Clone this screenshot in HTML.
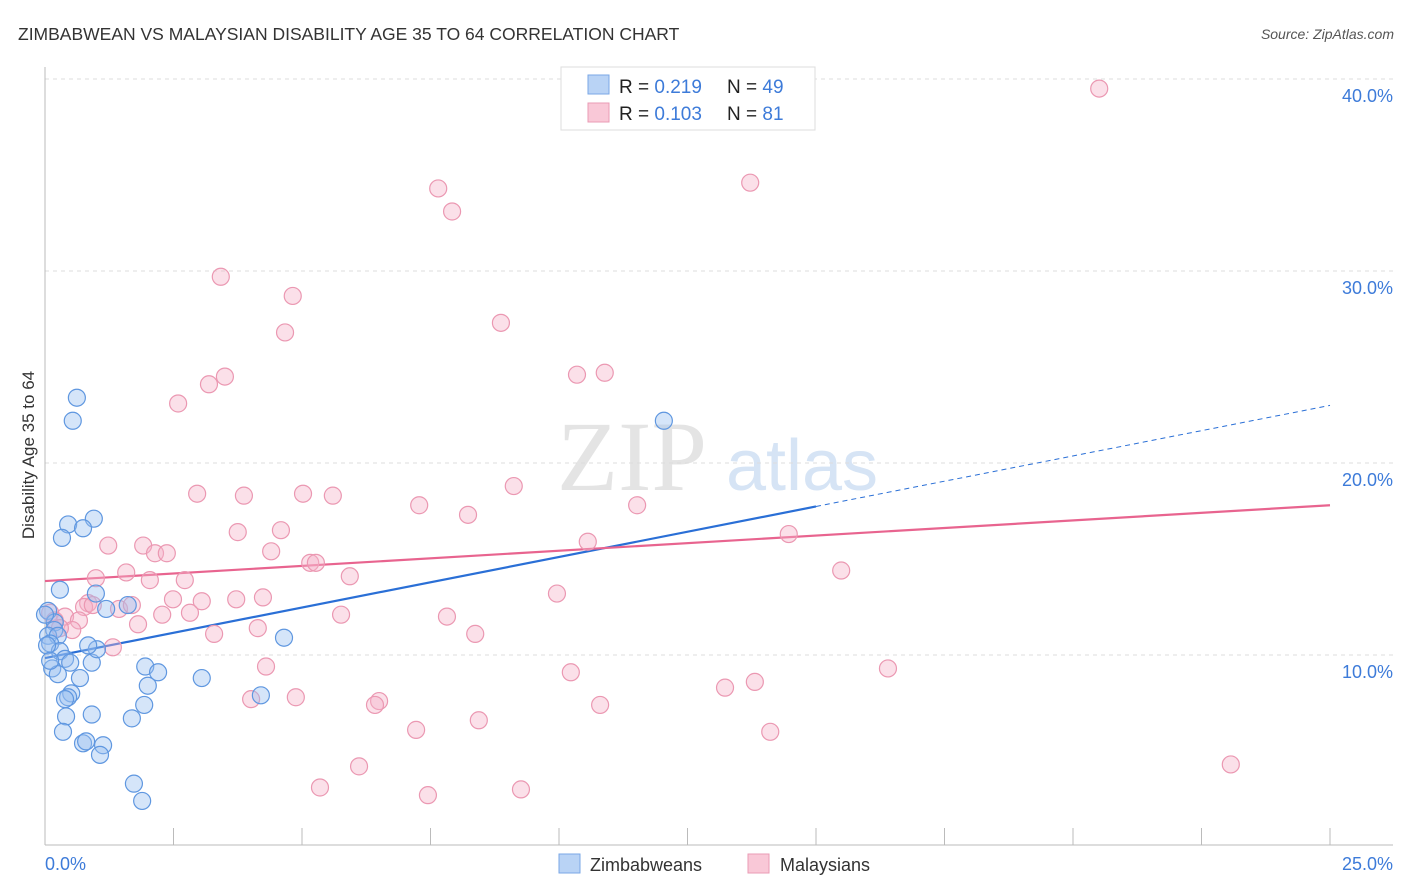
<!DOCTYPE html>
<html><head><meta charset="utf-8"><style>
body{margin:0;background:#fff;font-family:"Liberation Sans",sans-serif;}
svg{display:block}
</style></head><body>
<svg id="chart" width="1406" height="892" viewBox="0 0 1406 892" xmlns="http://www.w3.org/2000/svg">
<text x="18" y="40" font-size="17.5" fill="#333">ZIMBABWEAN VS MALAYSIAN DISABILITY AGE 35 TO 64 CORRELATION CHART</text>
<text x="1394" y="39" font-size="14" fill="#555" font-style="italic" text-anchor="end">Source: ZipAtlas.com</text>
<g>
<text x="632" y="490" font-size="100" font-family="Liberation Serif,serif" fill="#e4e4e4" text-anchor="middle">ZIP</text>
<text x="802" y="490" font-size="72" fill="#d6e4f5" text-anchor="middle">atlas</text>
</g>
<g id="grid"></g>
<g id="axes"></g>
<g id="lines"></g>
<g id="points"></g>
<text transform="translate(34,455) rotate(-90)" font-size="17" fill="#333" text-anchor="middle">Disability Age 35 to 64</text>
<g>
<rect x="561" y="67" width="254" height="63" fill="#fff" stroke="#ddd"/>
<rect x="588" y="75" width="21" height="19" fill="#b9d3f5" stroke="#7aa7e6"/>
<rect x="588" y="103" width="21" height="19" fill="#f9c8d7" stroke="#ea9bb4"/>
<text x="619" y="93" font-size="19" fill="#222">R = <tspan fill="#3d7bd9">0.219</tspan></text>
<text x="727" y="93" font-size="19" fill="#222">N = <tspan fill="#3d7bd9">49</tspan></text>
<text x="619" y="120" font-size="19" fill="#222">R = <tspan fill="#3d7bd9">0.103</tspan></text>
<text x="727" y="120" font-size="19" fill="#222">N = <tspan fill="#3d7bd9"> 81</tspan></text>
</g>
<g>
<rect x="559" y="854" width="21" height="19" fill="#b9d3f5" stroke="#7aa7e6"/>
<text x="590" y="871" font-size="18" fill="#333">Zimbabweans</text>
<rect x="748" y="854" width="21" height="19" fill="#f9c8d7" stroke="#ea9bb4"/>
<text x="780" y="871" font-size="18" fill="#333">Malaysians</text>
</g>
</svg>
<script>
const xTicks=[0,2.5,5,7.5,10,12.5,15,17.5,20,22.5,25];
const yTicks=[10,20,30,40];
const yTickLabels=["10.0%","20.0%","30.0%","40.0%"];
const xEndLabels=["0.0%","25.0%"];
const blueX=[0.62,0.54,0.45,0.95,0.33,0.74,0.29,0.99,1.61,1.19,0.06,0.19,0.18,0.06,0.25,0.10,0.29,0.39,0.49,0.91,1.01,0.84,0.14,0.25,0.68,1.95,2.20,2.00,3.05,0.51,0.45,0.39,0.91,0.41,1.93,1.69,4.20,4.65,0.35,0.74,0.80,1.13,1.07,1.73,1.89,12.04,0.0,0.04,0.10];
const blueY=[23.4,22.2,16.8,17.1,16.1,16.6,13.4,13.2,12.6,12.4,12.3,11.7,11.3,11.0,11.0,10.6,10.2,9.8,9.6,9.6,10.3,10.5,9.3,9.0,8.8,9.4,9.1,8.4,8.8,8.0,7.8,7.7,6.9,6.8,7.4,6.7,7.9,10.9,6.0,5.4,5.5,5.3,4.8,3.3,2.4,22.2,12.1,10.5,9.7];
const pinkX=[20.51,13.72,7.65,7.92,3.42,4.82,4.67,8.87,2.59,3.50,3.19,10.35,10.89,2.96,3.87,5.02,5.60,7.28,8.23,9.12,11.52,3.75,4.59,1.23,1.91,2.14,2.37,4.40,5.16,5.27,5.93,10.56,14.47,15.49,0.99,1.58,2.04,2.72,0.84,1.44,1.69,2.49,3.05,3.72,4.24,0.76,0.93,0.39,0.66,1.81,2.28,2.82,5.76,7.82,9.96,0.53,1.32,3.29,4.14,8.37,4.30,10.23,16.40,13.23,13.81,4.01,4.88,6.50,6.42,10.80,7.22,8.44,14.11,6.11,5.35,7.45,9.26,23.07,0.10,0.19,0.29];
const pinkY=[39.5,34.6,34.3,33.1,29.7,28.7,26.8,27.3,23.1,24.5,24.1,24.6,24.7,18.4,18.3,18.4,18.3,17.8,17.3,18.8,17.8,16.4,16.5,15.7,15.7,15.3,15.3,15.4,14.8,14.8,14.1,15.9,16.3,14.4,14.0,14.3,13.9,13.9,12.7,12.4,12.6,12.9,12.8,12.9,13.0,12.5,12.6,12.0,11.8,11.6,12.1,12.2,12.1,12.0,13.2,11.3,10.4,11.1,11.4,11.1,9.4,9.1,9.3,8.3,8.6,7.7,7.8,7.6,7.4,7.4,6.1,6.6,6.0,4.2,3.1,2.7,3.0,4.3,12.2,11.8,11.4];
const blueTrend=[9.84,23.0];
const blueSolidEnd=15;
const pinkTrend=[13.85,17.8];

const NS="http://www.w3.org/2000/svg";
const X0=45,X1=1330,Y0=847,PX=19.2;
const sx=v=>X0+(v/25)*(X1-X0);
const sy=v=>Y0-v*PX;
function mk(tag,attrs,parent){const e=document.createElementNS(NS,tag);for(const k in attrs)e.setAttribute(k,attrs[k]);parent.appendChild(e);return e;}
const grid=document.getElementById('grid'),axes=document.getElementById('axes'),lines=document.getElementById('lines'),pts=document.getElementById('points');
mk('line',{x1:45,y1:79,x2:1393,y2:79,stroke:'#ddd','stroke-dasharray':'4,4'},grid);
yTicks.forEach((t,i)=>{
  const g=mk('line',{x1:45,y1:sy(t),x2:1393,y2:sy(t),stroke:'#ddd','stroke-dasharray':'4,4'},grid);
  
  
  const tx=mk('text',{x:1393,y:sy(t)+23,'font-size':18,fill:'#3d7bd9','text-anchor':'end'},axes);
  tx.textContent=yTickLabels[i];
  
  
});
mk('line',{x1:45,y1:67,x2:45,y2:845,stroke:'#bbb'},axes);
mk('line',{x1:45,y1:845,x2:1393,y2:845,stroke:'#bbb'},axes);
xTicks.forEach(t=>{
  const l=mk('line',{x1:sx(t),y1:828,x2:sx(t),y2:845,stroke:'#bbb'},axes);
  
  
});
const xl0=mk('text',{x:45,y:870,'font-size':18,fill:'#3d7bd9'},axes);xl0.textContent=xEndLabels[0];


const xl1=mk('text',{x:1393,y:870,'font-size':18,fill:'#3d7bd9','text-anchor':'end'},axes);xl1.textContent=xEndLabels[1];


function drawPts(xs,ys,fill,stroke,name){
  xs.forEach((x,i)=>{
    const c=mk('circle',{cx:sx(x),cy:sy(ys[i]),r:8.5,fill:fill,stroke:stroke,'stroke-width':1.2},pts);
    
    
  });
}
drawPts(pinkX,pinkY,'rgba(246,178,200,0.4)','#eb98b2','malaysian-point');
drawPts(blueX,blueY,'rgba(150,190,240,0.4)','#5f97e0','zimbabwean-point');
const bAt=x=>blueTrend[0]+(blueTrend[1]-blueTrend[0])*x/25;
const b1=mk('line',{x1:sx(0),y1:sy(blueTrend[0]),x2:sx(blueSolidEnd),y2:sy(bAt(blueSolidEnd)),stroke:'#2a6fd6','stroke-width':2.2},lines);


const b2=mk('line',{x1:sx(blueSolidEnd),y1:sy(bAt(blueSolidEnd)),x2:sx(25),y2:sy(blueTrend[1]),stroke:'#2a6fd6','stroke-width':1,'stroke-dasharray':'5,4'},lines);


const p1=mk('line',{x1:sx(0),y1:sy(pinkTrend[0]),x2:sx(25),y2:sy(pinkTrend[1]),stroke:'#e8648f','stroke-width':2.2},lines);


</script>
</body></html>
